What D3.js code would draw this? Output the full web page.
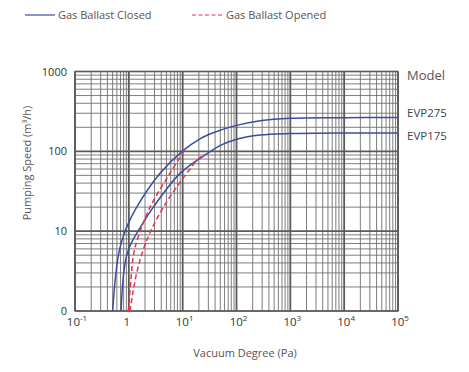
<!DOCTYPE html>
<html><head><meta charset="utf-8">
<script src="https://cdn.jsdelivr.net/npm/d3@7"></script>
<style>
html,body{margin:0;padding:0;background:#fff;}
text{font-family:"Open Sans",sans-serif;}
</style></head>
<body><svg id="c" width="469" height="372"></svg>
<script>
// Data (pressure in Pa, speed in m3/h)
const evp275ClosedP = [0.5, 0.56, 0.64, 0.76, 0.95, 1.4, 3.8, 10.3, 21, 32, 88, 275, 1000, 10000, 100000];
const evp275ClosedS = [1, 2.5, 5, 8, 12, 20, 53, 103, 143, 165, 207, 242, 260, 264, 265];
const evp175ClosedP = [0.72, 0.78, 0.9, 1.1, 1.55, 2.85, 8.95, 28, 55, 101, 275, 1000, 10000, 100000];
const evp175ClosedS = [1, 2.5, 4.8, 7, 10.5, 20, 53, 93, 122, 142, 160, 167, 170, 170];
const evp275OpenedP = [0.98, 1.1, 1.22, 1.45, 2.48, 5.8, 11];
const evp275OpenedS = [1, 2.6, 5, 8, 20, 53, 105];
const evp175OpenedP = [1.05, 1.4, 2.15, 4.4, 11.9, 21, 26];
const evp175OpenedS = [1, 3.0, 7.7, 20, 53, 84, 90];
const xTickValues = [0.1, 1, 10, 100, 1000, 10000, 100000];
const xTickBase = ["10", "1", "10", "10", "10", "10", "10"];
const xTickSup = ["-1", "", "1", "2", "3", "4", "5"];
const yTickValues = [1, 10, 100, 1000];
const yTickLabels = ["0", "10", "100", "1000"];
const modelNames = ["EVP275", "EVP175"];
const legendLabels = ["Gas Ballast Closed", "Gas Ballast Opened"];

const svg = d3.select("#c");
const L = 75, R = 398, T = 71.5, B = 311;
const x = d3.scaleLog().domain([0.1, 100000]).range([L, R]);
const y = d3.scaleLog().domain([1, 1000]).range([B, T]);

const blue = "#3c4b9c", red = "#e3344c";
const g = svg.append("g");

// minor grid
const minorX = [], minorY = [];
for (let e = -1; e < 5; e++) for (let k = 2; k <= 9; k++) minorX.push(k * Math.pow(10, e));
for (let e = 0; e < 3; e++) for (let k = 2; k <= 9; k++) minorY.push(k * Math.pow(10, e));
g.selectAll(".mx").data(minorX).join("line")
  .attr("x1", d => x(d)).attr("x2", d => x(d)).attr("y1", T).attr("y2", B)
  .attr("stroke", "#6f6f6f").attr("stroke-width", 0.9);
g.selectAll(".my").data(minorY).join("line")
  .attr("y1", d => y(d)).attr("y2", d => y(d)).attr("x1", L).attr("x2", R)
  .attr("stroke", "#6f6f6f").attr("stroke-width", 0.9);
// major grid
g.selectAll(".Mx").data(xTickValues).join("line")
  .attr("x1", d => x(d)).attr("x2", d => x(d)).attr("y1", T).attr("y2", B)
  .attr("stroke", "#5a5a5a").attr("stroke-width", 1.8);
g.selectAll(".My").data(yTickValues).join("line")
  .attr("y1", d => y(d)).attr("y2", d => y(d)).attr("x1", L).attr("x2", R)
  .attr("stroke", "#5a5a5a").attr("stroke-width", 1.6);
g.append("rect").attr("x", L).attr("y", T).attr("width", R - L).attr("height", B - T)
  .attr("fill", "none").attr("stroke", "#5a5a5a").attr("stroke-width", 1.2);

// curves
const line = d3.line().x(d => x(d[0])).y(d => y(d[1])).curve(d3.curveCatmullRom.alpha(0.5));
function series(P, S) { return P.map((p, i) => [p, S[i]]); }
const curves = [
  {d: series(evp275ClosedP, evp275ClosedS), c: blue, dash: null},
  {d: series(evp175ClosedP, evp175ClosedS), c: blue, dash: null},
  {d: series(evp275OpenedP, evp275OpenedS), c: red, dash: "5,3"},
  {d: series(evp175OpenedP, evp175OpenedS), c: red, dash: "5,3"}
];
svg.selectAll(".curve").data(curves).join("path")
  .attr("d", d => line(d.d)).attr("fill", "none")
  .attr("stroke", d => d.c).attr("stroke-width", 1.5)
  .attr("stroke-dasharray", d => d.dash);

// y tick labels
svg.selectAll(".yt").data(yTickValues).join("text")
  .attr("x", 67).attr("y", d => y(d) + 4).attr("text-anchor", "end")
  .attr("font-size", 11).attr("fill", "#333").text((d, i) => yTickLabels[i]);

// x tick labels
const xt = svg.selectAll(".xt").data(xTickValues).join("text")
  .attr("x", d => x(d) + (xTickSup[xTickValues.indexOf(d)] ? 2 : -2)).attr("y", 326)
  .attr("text-anchor", "middle").attr("font-size", 11.5).attr("fill", "#333");
xt.append("tspan").text((d, i) => xTickBase[i]);
xt.append("tspan").attr("dy", -5).attr("font-size", 8).text((d, i) => xTickSup[i]);

// axis titles
svg.append("text").attr("x", 245).attr("y", 357).attr("text-anchor", "middle")
  .attr("font-size", 11).attr("fill", "#555").text("Vacuum Degree (Pa)");
svg.append("text").attr("transform", "translate(31,163) rotate(-90)")
  .attr("text-anchor", "middle").attr("font-size", 11).attr("fill", "#555")
  .text("Pumping Speed (m³/h)");

// right labels
svg.append("text").attr("x", 407).attr("y", 80).attr("font-size", 13).attr("fill", "#555").text("Model");
svg.selectAll(".ml").data(modelNames).join("text")
  .attr("x", 407).attr("y", (d, i) => [117, 140][i])
  .attr("font-size", 11.5).attr("fill", "#444").text(d => d);

// legend
const lg = [{x1: 25, x2: 55, tx: 58, c: blue, dash: null}, {x1: 192, x2: 222, tx: 226, c: red, dash: "4,2.5"}];
svg.selectAll(".lgl").data(lg).join("line")
  .attr("x1", d => d.x1).attr("x2", d => d.x2).attr("y1", 15).attr("y2", 15)
  .attr("stroke", d => d.c).attr("stroke-width", 1.2).attr("stroke-dasharray", d => d.dash);
svg.selectAll(".lgt").data(lg).join("text")
  .attr("x", d => d.tx).attr("y", 19).attr("font-size", 11).attr("fill", "#555")
  .text((d, i) => legendLabels[i]);
</script></body></html>
